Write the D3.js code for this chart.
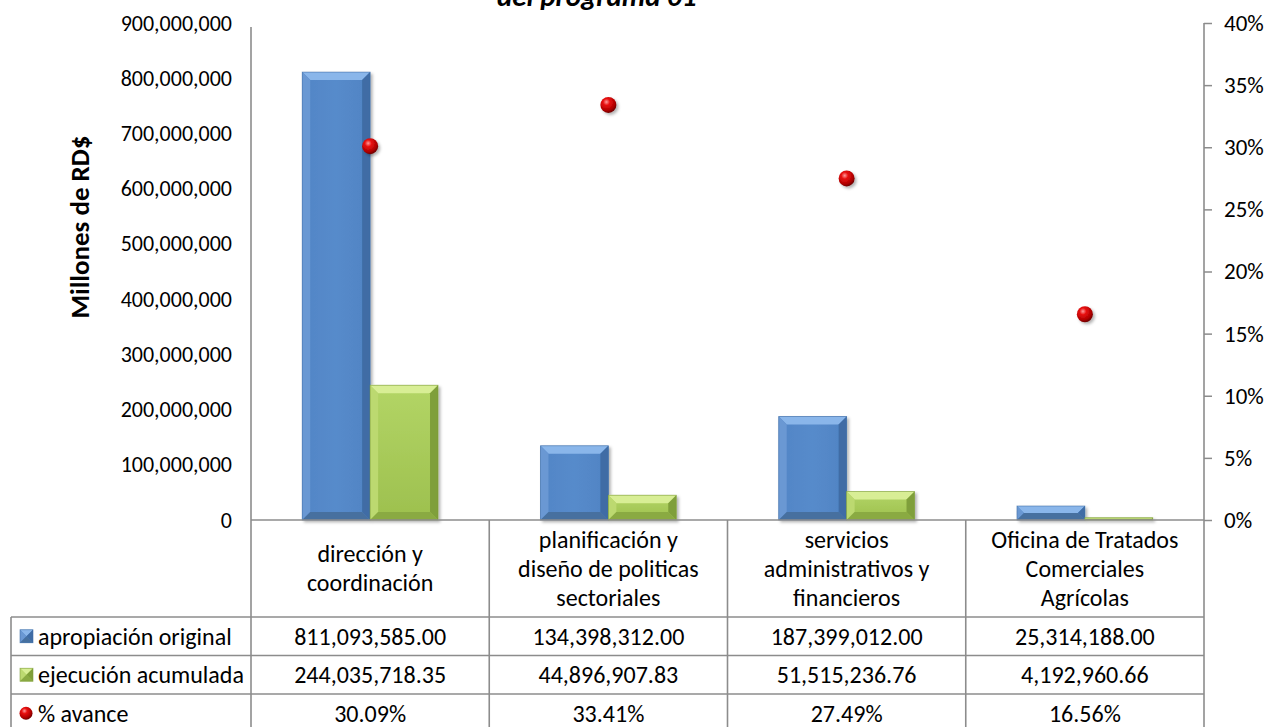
<!DOCTYPE html>
<html>
<head>
<meta charset="utf-8">
<script src="https://cdn.jsdelivr.net/npm/d3@7"></script>
<style>
  html, body { margin: 0; padding: 0; background: #fff; }
  svg { display: block; font-family: Carlito, Calibri, Lato, "Noto Sans", sans-serif; }
</style>
</head>
<body>
<svg id="chart" width="1265" height="727"></svg>
<script>
// ---------- data ----------
const categoryLines = [
  ["dirección y", "coordinación"],
  ["planificación y", "diseño de politicas", "sectoriales"],
  ["servicios", "administrativos y", "financieros"],
  ["Oficina de Tratados", "Comerciales", "Agrícolas"]
];
const seriesNames = ["apropiación original", "ejecución acumulada", "% avance"];
const apropiacion = [811093585.00, 134398312.00, 187399012.00, 25314188.00];
const ejecucion = [244035718.35, 44896907.83, 51515236.76, 4192960.66];
const avance = [30.09, 33.41, 27.49, 16.56];
const leftTicks = [0, 100000000, 200000000, 300000000, 400000000, 500000000, 600000000, 700000000, 800000000, 900000000];
const rightTicks = [0, 5, 10, 15, 20, 25, 30, 35, 40];
const yTitle = "Millones de RD$";
const titleText = "del programa 01";

// ---------- layout ----------
const svg = d3.select("#chart");
const L = 251, R = 1204, T = 23, B = 520;
const tableLeft = 11;
const headerBottom = 617;
const rowH = 38.5;
const axisColor = "#8c8c8c";
const fontSize = 24;

const x0 = d3.scaleBand().domain(d3.range(categoryLines.length)).range([L, R]).padding(0);
const bw = x0.bandwidth();
const x1 = d3.scaleBand().domain([0, 1]).range([bw * 0.215, bw * 0.785]).padding(0);
const y = d3.scaleLinear().domain([0, 900000000]).range([B, T]);
const y2 = d3.scaleLinear().domain([0, 40]).range([B, T]);

// ---------- defs ----------
const defs = svg.append("defs");
const rg = defs.append("radialGradient").attr("id", "dotGrad").attr("cx", "38%").attr("cy", "32%").attr("r", "70%");
rg.append("stop").attr("offset", "0%").attr("stop-color", "#ff9a9a");
rg.append("stop").attr("offset", "30%").attr("stop-color", "#e81010");
rg.append("stop").attr("offset", "75%").attr("stop-color", "#b00000");
rg.append("stop").attr("offset", "100%").attr("stop-color", "#6a0000");
const sh = defs.append("filter").attr("id", "shadow").attr("x", "-30%").attr("y", "-30%").attr("width", "170%").attr("height", "170%");
sh.append("feDropShadow").attr("dx", 2).attr("dy", 2).attr("stdDeviation", 1.6).attr("flood-color", "#000").attr("flood-opacity", 0.3);

const gBlue = defs.append("linearGradient").attr("id", "blueFace").attr("x1", 0).attr("x2", 1).attr("y1", 0).attr("y2", 0);
gBlue.append("stop").attr("offset", "0%").attr("stop-color", "#5185c6");
gBlue.append("stop").attr("offset", "50%").attr("stop-color", "#578bcb");
gBlue.append("stop").attr("offset", "100%").attr("stop-color", "#4f83c3");
const gGreen = defs.append("linearGradient").attr("id", "greenFace").attr("x1", 0).attr("x2", 0).attr("y1", 0).attr("y2", 1);
gGreen.append("stop").attr("offset", "0%").attr("stop-color", "#b3d566");
gGreen.append("stop").attr("offset", "100%").attr("stop-color", "#9dc04e");

const palettes = [
  { face: "url(#blueFace)", top: "#8ab6ea", left: "#6a98d3", right: "#3f6ca5", bottom: "#46709f", edge: "#3f6da6" },
  { face: "url(#greenFace)", top: "#d8ee95", left: "#bcd970", right: "#7f9f3a", bottom: "#8aaa42", edge: "#7d9b3a" }
];

// ---------- title ----------
svg.append("text").attr("x", 497).attr("y", 6)
  .attr("font-size", 29).attr("font-weight", "bold").attr("font-style", "italic")
  .attr("fill", "#000").text(titleText);

// ---------- left axis labels ----------
const gl = svg.append("g").attr("transform", `translate(${L},0)`)
  .call(d3.axisLeft(y).tickValues(leftTicks).tickSize(0).tickPadding(19).tickFormat(d3.format(",")));
gl.attr("font-family", null).attr("font-size", null);
gl.select(".domain").remove();
gl.selectAll("text").attr("font-size", 22).attr("fill", "#000");

svg.append("text")
  .attr("transform", `translate(${89},${227}) rotate(-90)`)
  .attr("text-anchor", "middle").attr("font-size", 27).attr("font-weight", "bold").attr("fill", "#000")
  .text(yTitle);

// ---------- right axis ----------
const gr = svg.append("g").attr("transform", `translate(${R},0)`)
  .call(d3.axisRight(y2).tickValues(rightTicks).tickSize(8).tickPadding(12).tickFormat(d => d + "%"));
gr.attr("font-family", null).attr("font-size", null);
gr.select(".domain").remove();
gr.selectAll("line").attr("stroke", axisColor).attr("stroke-width", 1.5);
gr.selectAll("text").attr("font-size", 23).attr("fill", "#000");

// ---------- bars ----------
function bevelBar(g, x, yTop, w, h, pal) {
  if (h <= 0) return;
  const b = Math.min(8, h / 2, w / 2);
  const x2 = x + w, yB = yTop + h;
  g.append("rect").attr("x", x).attr("y", yTop).attr("width", w).attr("height", h).attr("fill", pal.face);
  g.append("polygon").attr("points", `${x},${yTop} ${x2},${yTop} ${x2 - b},${yTop + b} ${x + b},${yTop + b}`).attr("fill", pal.top);
  g.append("polygon").attr("points", `${x},${yTop} ${x + b},${yTop + b} ${x + b},${yB - b} ${x},${yB}`).attr("fill", pal.left);
  g.append("polygon").attr("points", `${x2},${yTop} ${x2},${yB} ${x2 - b},${yB - b} ${x2 - b},${yTop + b}`).attr("fill", pal.right);
  g.append("polygon").attr("points", `${x},${yB} ${x + b},${yB - b} ${x2 - b},${yB - b} ${x2},${yB}`).attr("fill", pal.bottom);
  g.append("rect").attr("x", x).attr("y", yTop).attr("width", w).attr("height", h)
    .attr("fill", "none").attr("stroke", pal.edge).attr("stroke-width", 0.8).attr("stroke-opacity", 0.7);
}

const barSeries = [apropiacion, ejecucion];
const gBars = svg.append("g").attr("filter", "url(#shadow)");
barSeries.forEach((vals, si) => {
  vals.forEach((v, ci) => {
    const bx = x0(ci) + x1(si);
    const g = gBars.append("g");
    bevelBar(g, bx, y(v), x1.bandwidth(), y(0) - y(v), palettes[si]);
  });
});

// ---------- grid / table lines ----------
const lines = svg.append("g").attr("stroke", axisColor).attr("stroke-width", 1.6).attr("fill", "none");
const tableBottom = headerBottom + rowH * 3;
lines.append("line").attr("x1", L).attr("x2", R).attr("y1", B).attr("y2", B);
lines.append("line").attr("x1", L).attr("x2", L).attr("y1", T + 4).attr("y2", tableBottom);
lines.append("line").attr("x1", R).attr("x2", R).attr("y1", T).attr("y2", tableBottom);
d3.range(1, categoryLines.length).forEach(i => {
  lines.append("line").attr("x1", x0(i)).attr("x2", x0(i)).attr("y1", B).attr("y2", tableBottom);
});
d3.range(0, 4).forEach(r => {
  const yy = headerBottom + r * rowH;
  lines.append("line").attr("x1", tableLeft).attr("x2", R).attr("y1", yy).attr("y2", yy);
});
lines.append("line").attr("x1", tableLeft).attr("x2", tableLeft).attr("y1", headerBottom).attr("y2", tableBottom);

// ---------- dots ----------
const gDots = svg.append("g");
avance.forEach((v, ci) => {
  gDots.append("circle").attr("cx", x0(ci) + bw / 2).attr("cy", y2(v)).attr("r", 8)
    .attr("fill", "url(#dotGrad)").attr("filter", "url(#shadow)");
});

// ---------- table header ----------
const lineGap = 29;
categoryLines.forEach((ls, ci) => {
  const cx = x0(ci) + bw / 2;
  const mid = (B + headerBottom) / 2;
  const start = mid - (ls.length - 1) * lineGap / 2;
  ls.forEach((t, li) => {
    svg.append("text").attr("x", cx).attr("y", start + li * lineGap).attr("dy", "0.35em")
      .attr("text-anchor", "middle").attr("font-size", fontSize).attr("fill", "#000").text(t);
  });
});

// ---------- table rows ----------
const fmtNum = d3.format(",.2f");
const fmtPct = v => d3.format(".2f")(v) + "%";
const rowsData = [apropiacion.map(fmtNum), ejecucion.map(fmtNum), avance.map(fmtPct)];
rowsData.forEach((row, ri) => {
  const cy = headerBottom + ri * rowH + rowH / 2;
  if (ri < 2) {
    const g = svg.append("g");
    bevelBar(g, 20, cy - 6.5, 13, 13, { ...palettes[ri], face: ri === 0 ? "#5185c6" : "#a7c957" });
  } else {
    svg.append("circle").attr("cx", 26).attr("cy", cy).attr("r", 6.5).attr("fill", "url(#dotGrad)");
  }
  svg.append("text").attr("x", 38).attr("y", cy).attr("dy", "0.35em")
    .attr("font-size", fontSize).attr("fill", "#000").text(seriesNames[ri]);
  row.forEach((t, ci) => {
    svg.append("text").attr("x", x0(ci) + bw / 2).attr("y", cy).attr("dy", "0.35em")
      .attr("text-anchor", "middle").attr("font-size", fontSize).attr("fill", "#000").text(t);
  });
});
</script>
</body>
</html>
